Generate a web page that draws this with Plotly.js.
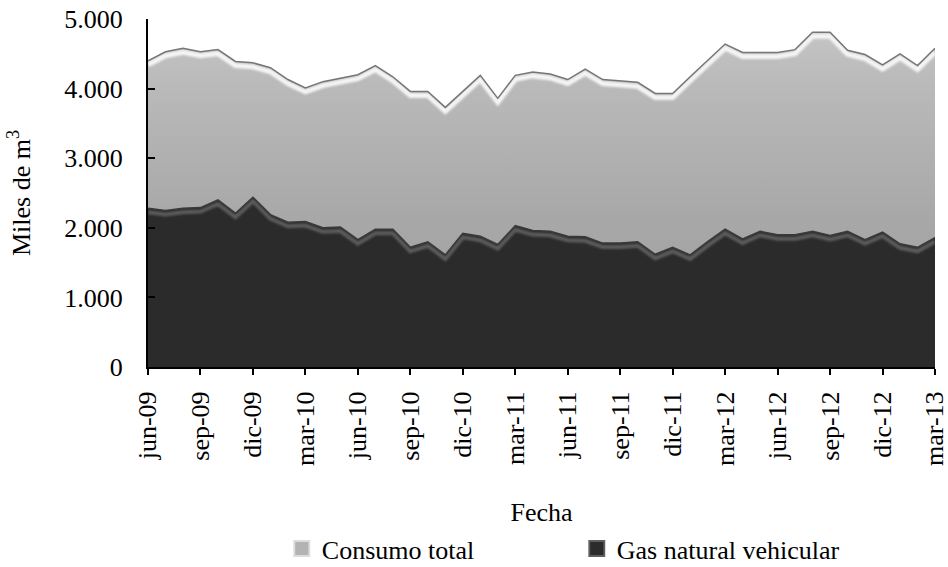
<!DOCTYPE html>
<html>
<head>
<meta charset="utf-8">
<script src="https://cdn.plot.ly/plotly-3.0.1.min.js"></script>
<style>
  html, body { margin: 0; padding: 0; background: #ffffff; }
  #chart { width: 948px; height: 567px; }
</style>
</head>
<body>
<div id="chart"></div>
<script>
// Months (categories) jun-09 .. mar-13
const months = [
  'jun-09','jul-09','ago-09','sep-09','oct-09','nov-09','dic-09',
  'ene-10','feb-10','mar-10','abr-10','may-10','jun-10','jul-10','ago-10','sep-10','oct-10','nov-10','dic-10',
  'ene-11','feb-11','mar-11','abr-11','may-11','jun-11','jul-11','ago-11','sep-11','oct-11','nov-11','dic-11',
  'ene-12','feb-12','mar-12','abr-12','may-12','jun-12','jul-12','ago-12','sep-12','oct-12','nov-12','dic-12',
  'ene-13','feb-13','mar-13'
];

// Consumo total (miles de m3)
const consumoTotal = [
  4400, 4530, 4580, 4530, 4560, 4390, 4370,
  4300, 4130, 4010, 4100, 4150, 4200, 4330, 4170, 3960, 3960, 3730, 3960,
  4190, 3860, 4190, 4240, 4210, 4130, 4280, 4130, 4110, 4090, 3930, 3930,
  4170, 4410, 4640, 4520, 4520, 4520, 4560, 4810, 4810, 4550, 4490, 4340,
  4500, 4330, 4580
];

// Gas natural vehicular (miles de m3)
const gasVehicular = [
  2280, 2250, 2280, 2290, 2400, 2210, 2440,
  2190, 2080, 2090, 2000, 2010, 1830, 1980, 1980, 1720, 1800, 1610, 1920,
  1880, 1760, 2030, 1960, 1950, 1880, 1870, 1780, 1780, 1800, 1620, 1720,
  1610, 1800, 1980, 1840, 1950, 1900, 1900, 1950, 1890, 1950, 1830, 1940,
  1770, 1720, 1860
];

// Axis ticks
const xTickLabels = ['jun-09','sep-09','dic-09','mar-10','jun-10','sep-10','dic-10','mar-11',
  'jun-11','sep-11','dic-11','mar-12','jun-12','sep-12','dic-12','mar-13'];
const yTickValues = [0, 1000, 2000, 3000, 4000, 5000];

const seriesNames = ['Consumo total', 'Gas natural vehicular'];

const FONT = 'Liberation Serif, Times New Roman, serif';
const FS = 26;

const traces = [
  { // 0 total fill
    x: months, y: consumoTotal, type: 'scatter', mode: 'none', fill: 'tozeroy',
    fillcolor: '#b4b4b4',
    fillgradient: { type: 'vertical', colorscale: [[0, '#9c9c9c'], [0.45, '#a8a8a8'], [0.85, '#bababa'], [1, '#c4c4c4']] },
    showlegend: false, hoverinfo: 'skip'
  },
  { // 1 total highlight
    x: months, y: consumoTotal, type: 'scatter', mode: 'lines',
    line: { color: 'rgba(248,248,248,0.95)', width: 5 },
    showlegend: false, hoverinfo: 'skip'
  },
  { // 2 total edge
    x: months, y: consumoTotal, type: 'scatter', mode: 'lines',
    line: { color: '#767676', width: 1.5 },
    showlegend: false, hoverinfo: 'skip'
  },
  { // 3 gas fill
    x: months, y: gasVehicular, type: 'scatter', mode: 'none', fill: 'tozeroy',
    fillcolor: '#2b2b2b', showlegend: false, hoverinfo: 'skip'
  },
  { // 4 gas highlight
    x: months, y: gasVehicular, type: 'scatter', mode: 'lines',
    line: { color: 'rgba(95,95,95,0.95)', width: 4 },
    showlegend: false, hoverinfo: 'skip'
  },
  { // 5 gas edge
    x: months, y: gasVehicular, type: 'scatter', mode: 'lines',
    line: { color: '#3a3a3a', width: 1.5 },
    showlegend: false, hoverinfo: 'skip'
  },
  { // legend entries (not drawn in plot)
    x: months, y: consumoTotal, type: 'bar', name: seriesNames[0], visible: 'legendonly',
    marker: { color: '#b3b3b3', line: { color: '#dcdcdc', width: 1.5 } }
  },
  {
    x: months, y: gasVehicular, type: 'bar', name: seriesNames[1], visible: 'legendonly',
    marker: { color: '#2b2b2b', line: { color: '#5e5e5e', width: 1.5 } }
  }
];

const layout = {
  width: 948, height: 567,
  margin: { l: 148, r: 13, t: 19, b: 200, autoexpand: false },
  paper_bgcolor: '#ffffff', plot_bgcolor: '#ffffff',
  separators: ',.',
  font: { family: FONT, size: FS, color: '#000000' },
  xaxis: {
    type: 'category', categoryorder: 'array', categoryarray: months,
    range: [0, months.length - 1],
    tickmode: 'array', tickvals: xTickLabels, ticktext: xTickLabels,
    tickangle: -90, ticks: 'outside', ticklen: 6, tickwidth: 2, tickcolor: '#000',
    showline: true, linecolor: '#000', linewidth: 2,
    showgrid: false, zeroline: false, automargin: false,
    tickfont: { family: FONT, size: FS, color: '#000' },
    ticklabelstandoff: 6,
    title: { text: 'Fecha', font: { family: FONT, size: FS, color: '#000' }, standoff: 38 },
    fixedrange: true
  },
  yaxis: {
    range: [0, 5000],
    tickmode: 'array', tickvals: yTickValues,
    tickformat: ',d', separatethousands: true,
    ticks: 'inside', ticklen: 7, tickwidth: 2, tickcolor: '#000',
    showline: true, linecolor: '#000', linewidth: 2,
    showgrid: false, zeroline: false, automargin: false,
    tickfont: { family: FONT, size: FS, color: '#000' },
    ticklabelstandoff: 18,
    title: { text: 'Miles de m<sup>3</sup>', font: { family: FONT, size: FS, color: '#000' }, standoff: 26 },
    fixedrange: true
  },
  showlegend: true,
  legend: {
    orientation: 'h', x: 0.17, xanchor: 'left', y: -0.522, yanchor: 'middle',
    font: { family: FONT, size: FS, color: '#000' },
    entrywidth: 250, entrywidthmode: 'pixels',
    bgcolor: 'rgba(0,0,0,0)', borderwidth: 0
  },
  hovermode: false
};

Plotly.newPlot('chart', traces, layout, { staticPlot: true, displayModeBar: false }).then(function () {
  const groups = document.querySelectorAll('.scatterlayer .trace');
  if (groups.length >= 6) {
    groups[1].setAttribute('transform', 'translate(0,4)');
    groups[1].style.filter = 'blur(1.3px)';
    groups[4].setAttribute('transform', 'translate(0,4)');
    groups[4].style.filter = 'blur(1.2px)';
  }
  document.querySelectorAll('.legend .traces').forEach(function (t) {
    t.style.opacity = '1';
  });
  document.querySelectorAll('.legend .legendpoints path').forEach(function (p) {
    const tr = p.getAttribute('transform') || '';
    p.setAttribute('transform', tr + ' scale(1.25)');
  });
});
</script>
</body>
</html>
